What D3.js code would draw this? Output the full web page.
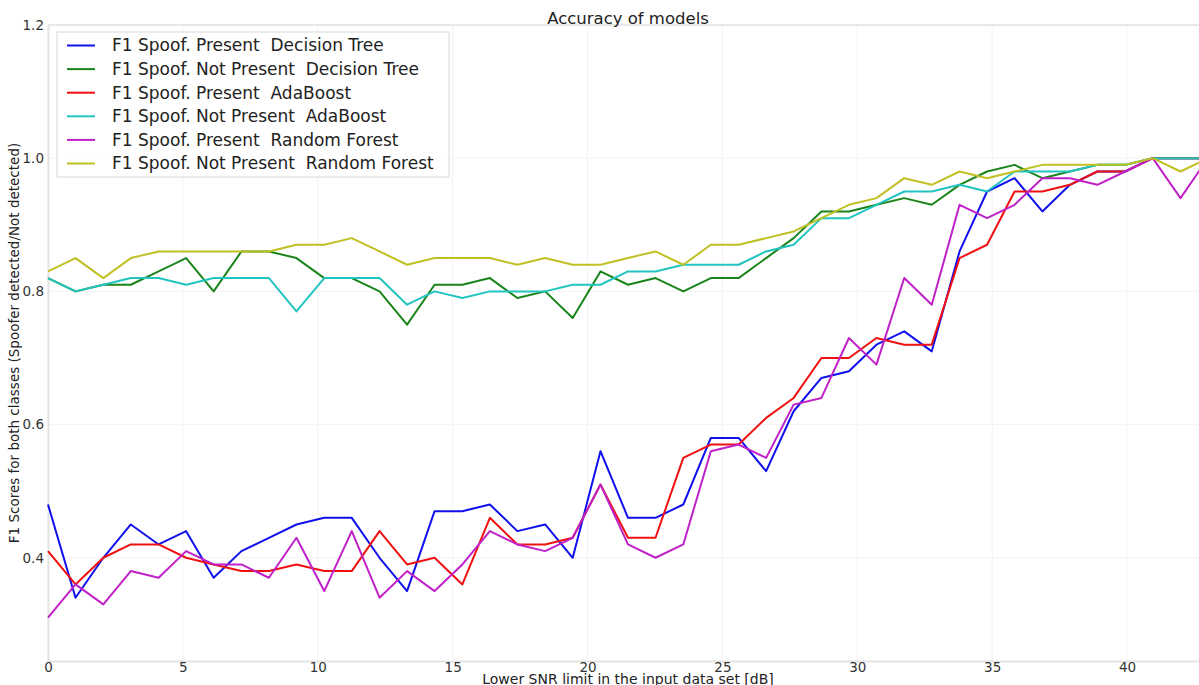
<!DOCTYPE html>
<html>
<head>
<meta charset="utf-8">
<script src="https://cdn.jsdelivr.net/npm/d3@7"></script>
<style>
  body { margin: 0; background: #fff; }
  svg { display: block; font-family: "DejaVu Sans", sans-serif; }
  text { white-space: pre; }
</style>
</head>
<body>
<div id="chart"></div>
<script>
// SNR lower limit (dB), 43 runs
var snr = [0, 1.02, 2.05, 3.07, 4.10, 5.12, 6.14, 7.17, 8.19, 9.21, 10.24, 11.26, 12.29, 13.31,
  14.33, 15.36, 16.38, 17.40, 18.43, 19.45, 20.48, 21.50, 22.52, 23.55, 24.57, 25.60, 26.62,
  27.64, 28.67, 29.69, 30.71, 31.74, 32.76, 33.79, 34.81, 35.83, 36.86, 37.88, 38.90, 39.93,
  40.95, 41.98, 43.00];

var dtPresent = [0.48, 0.34, 0.40, 0.45, 0.42, 0.44, 0.37, 0.41, 0.43, 0.45, 0.46, 0.46, 0.40, 0.35,
  0.47, 0.47, 0.48, 0.44, 0.45, 0.40, 0.56, 0.46, 0.46, 0.48, 0.58, 0.58, 0.53, 0.62, 0.67, 0.68,
  0.72, 0.74, 0.71, 0.86, 0.95, 0.97, 0.92, 0.96, 0.98, 0.98, 1.00, 1.00, 1.00];
var dtNotPresent = [0.82, 0.80, 0.81, 0.81, 0.83, 0.85, 0.80, 0.86, 0.86, 0.85, 0.82, 0.82, 0.80, 0.75,
  0.81, 0.81, 0.82, 0.79, 0.80, 0.76, 0.83, 0.81, 0.82, 0.80, 0.82, 0.82, 0.85, 0.88, 0.92, 0.92,
  0.93, 0.94, 0.93, 0.96, 0.98, 0.99, 0.97, 0.98, 0.99, 0.99, 1.00, 1.00, 1.00];
var abPresent = [0.41, 0.36, 0.40, 0.42, 0.42, 0.40, 0.39, 0.38, 0.38, 0.39, 0.38, 0.38, 0.44, 0.39,
  0.40, 0.36, 0.46, 0.42, 0.42, 0.43, 0.51, 0.43, 0.43, 0.55, 0.57, 0.57, 0.61, 0.64, 0.70, 0.70,
  0.73, 0.72, 0.72, 0.85, 0.87, 0.95, 0.95, 0.96, 0.98, 0.98, 1.00, 1.00, 1.00];
var abNotPresent = [0.82, 0.80, 0.81, 0.82, 0.82, 0.81, 0.82, 0.82, 0.82, 0.77, 0.82, 0.82, 0.82, 0.78,
  0.80, 0.79, 0.80, 0.80, 0.80, 0.81, 0.81, 0.83, 0.83, 0.84, 0.84, 0.84, 0.86, 0.87, 0.91, 0.91,
  0.93, 0.95, 0.95, 0.96, 0.95, 0.98, 0.98, 0.98, 0.99, 0.99, 1.00, 1.00, 1.00];
var rfPresent = [0.31, 0.36, 0.33, 0.38, 0.37, 0.41, 0.39, 0.39, 0.37, 0.43, 0.35, 0.44, 0.34, 0.38,
  0.35, 0.39, 0.44, 0.42, 0.41, 0.43, 0.51, 0.42, 0.40, 0.42, 0.56, 0.57, 0.55, 0.63, 0.64, 0.73,
  0.69, 0.82, 0.78, 0.93, 0.91, 0.93, 0.97, 0.97, 0.96, 0.98, 1.00, 0.94, 1.00];
var rfNotPresent = [0.83, 0.85, 0.82, 0.85, 0.86, 0.86, 0.86, 0.86, 0.86, 0.87, 0.87, 0.88, 0.86, 0.84,
  0.85, 0.85, 0.85, 0.84, 0.85, 0.84, 0.84, 0.85, 0.86, 0.84, 0.87, 0.87, 0.88, 0.89, 0.91, 0.93,
  0.94, 0.97, 0.96, 0.98, 0.97, 0.98, 0.99, 0.99, 0.99, 0.99, 1.00, 0.98, 1.00];

var seriesNames = ["F1 Spoof. Present  Decision Tree", "F1 Spoof. Not Present  Decision Tree",
  "F1 Spoof. Present  AdaBoost", "F1 Spoof. Not Present  AdaBoost",
  "F1 Spoof. Present  Random Forest", "F1 Spoof. Not Present  Random Forest"];
var seriesValues = [dtPresent, dtNotPresent, abPresent, abNotPresent, rfPresent, rfNotPresent];
var seriesColors = ["#1010ee", "#1a841a", "#f01010", "#22c4c0", "#c020c8", "#c0c024"];

var xTicks = [0, 5, 10, 15, 20, 25, 30, 35, 40];
var yTicks = [0.4, 0.6, 0.8, 1.0, 1.2];

var W = 1199, H = 685;
var margin = { top: 25, left: 48, bottom: 24, right: -9 };

var svg = d3.select("#chart").append("svg")
  .attr("width", W)
  .attr("height", H);

var x = d3.scaleLinear().domain([0, 43]).range([margin.left, W - margin.right]);
var y = d3.scaleLinear().domain([0.245, 1.2]).range([H - margin.bottom, margin.top]);

//Grid
svg.append("g").selectAll("line").data(xTicks).enter().append("line")
  .attr("x1", function(d) { return x(d); }).attr("x2", function(d) { return x(d); })
  .attr("y1", y.range()[0]).attr("y2", y.range()[1])
  .attr("stroke", "#f3f3f3").attr("stroke-width", 1);
svg.append("g").selectAll("line").data(yTicks).enter().append("line")
  .attr("x1", x.range()[0]).attr("x2", x.range()[1])
  .attr("y1", function(d) { return y(d); }).attr("y2", function(d) { return y(d); })
  .attr("stroke", "#f3f3f3").attr("stroke-width", 1);

//Axes (matplotlib-like, light spines)
var xAxis = svg.append("g")
  .attr("transform", "translate(0," + y.range()[0] + ")")
  .call(d3.axisBottom(x).tickValues(xTicks).tickSize(0).tickPadding(1).tickFormat(d3.format("d")));
var yAxis = svg.append("g")
  .attr("transform", "translate(" + x.range()[0] + ",0)")
  .call(d3.axisLeft(y).tickValues(yTicks).tickSize(0).tickPadding(4).tickFormat(d3.format(".1f")));

[xAxis, yAxis].forEach(function(a) {
  a.select(".domain").attr("stroke", "#e4e4e4").attr("stroke-width", 2);
  a.selectAll("text").attr("fill", "#333").style("font-size", "13.5px")
    .style("font-family", "'DejaVu Sans', sans-serif");
});

svg.append("line")
  .attr("x1", x.range()[0]).attr("x2", x.range()[1])
  .attr("y1", y.range()[1]).attr("y2", y.range()[1])
  .attr("stroke", "#e8e8e8").attr("stroke-width", 2);

//Lines
var line = d3.line()
  .x(function(d, i) { return x(snr[i]); })
  .y(function(d) { return y(d); });

svg.append("g").selectAll("path").data(seriesValues).enter().append("path")
  .attr("d", line)
  .attr("fill", "none")
  .attr("stroke", function(d, i) { return seriesColors[i]; })
  .attr("stroke-width", 2)
  .attr("stroke-linejoin", "round");

//Title and labels
svg.append("text")
  .attr("x", (x.range()[0] + x.range()[1]) / 2).attr("y", 24)
  .attr("text-anchor", "middle").attr("fill", "#222")
  .style("font-size", "16.5px")
  .text("Accuracy of models");

svg.append("text")
  .attr("x", (x.range()[0] + x.range()[1]) / 2).attr("y", 684)
  .attr("text-anchor", "middle").attr("fill", "#222")
  .style("font-size", "14px")
  .text("Lower SNR limit in the input data set [dB]");

svg.append("text")
  .attr("transform", "translate(19," + ((y.range()[0] + y.range()[1]) / 2) + ") rotate(-90)")
  .attr("text-anchor", "middle").attr("fill", "#222")
  .style("font-size", "13.5px")
  .text("F1 Scores for both classes (Spoofer detected/Not detected)");

//Legend
var legend = svg.append("g").attr("transform", "translate(57,32)");
legend.append("rect")
  .attr("width", 392).attr("height", 145)
  .attr("fill", "#fff").attr("fill-opacity", 0.85)
  .attr("stroke", "#d8d8d8").attr("stroke-width", 1);

var entry = legend.selectAll("g.entry").data(seriesNames).enter().append("g")
  .attr("class", "entry")
  .attr("transform", function(d, i) { return "translate(0," + (13.5 + i * 23.6) + ")"; });
entry.append("line")
  .attr("x1", 10).attr("x2", 38)
  .attr("stroke", function(d, i) { return seriesColors[i]; })
  .attr("stroke-width", 2);
entry.append("text")
  .attr("x", 55).attr("dy", "0.35em")
  .attr("fill", "#222")
  .style("font-size", "17px")
  .text(function(d) { return d; });
</script>
</body>
</html>
